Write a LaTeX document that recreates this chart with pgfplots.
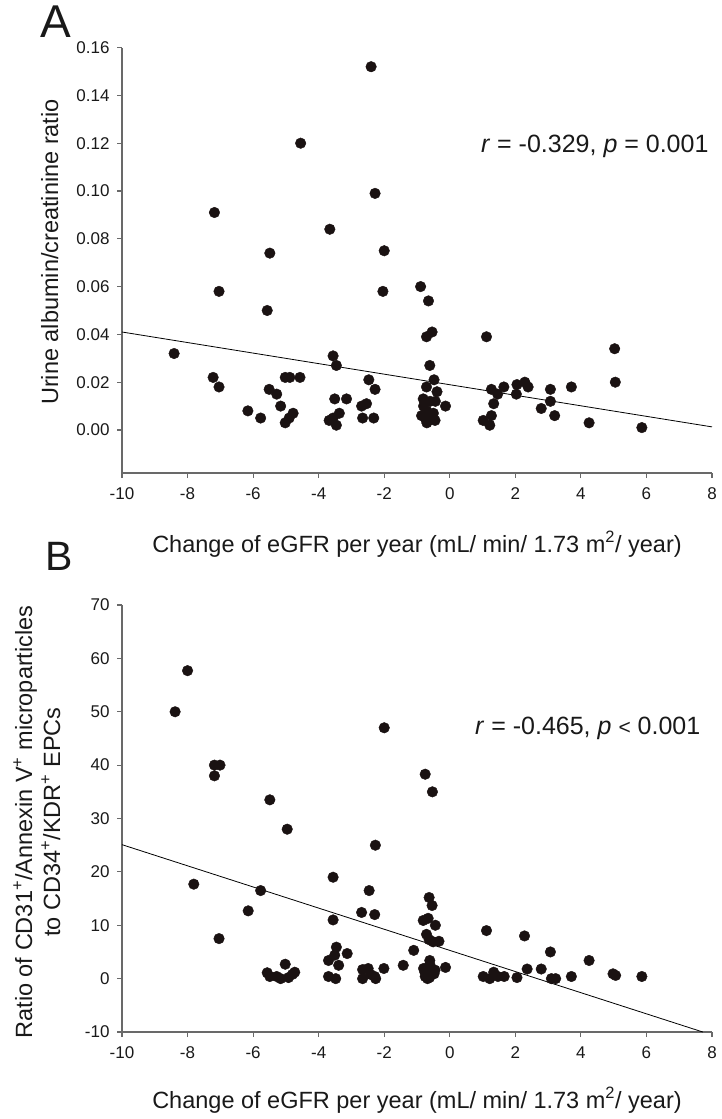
\documentclass[border=0pt]{standalone}
\usepackage{pgfplots}
\pgfplotsset{compat=1.18}
\usepackage{fontspec}
\setmainfont{Liberation Sans}
\definecolor{dot}{RGB}{26,18,18}
\definecolor{axg}{RGB}{105,105,105}
\begin{document}
\begin{tikzpicture}
\path[use as bounding box] (0pt,0pt) rectangle (721pt,-1119pt);
\pgfplotsset{
  myax/.style={
    scale only axis, width=590pt,
    xmin=-10, xmax=8, xtick={-10,-8,-6,-4,-2,0,2,4,6,8},
    axis x line*=bottom, axis y line*=left,
    axis line style={axg, line width=1.1pt},
    tick style={axg, line width=1.1pt},
    tick align=outside, major tick length=5pt,
    ticklabel style={font=\fontsize{17}{19}\selectfont, text=black!90},
    xticklabel style={yshift=-6pt},
    yticklabel style={xshift=-4pt},
    /pgf/number format/assume math mode=true,
    clip=false,
  },
  dots/.style={only marks, mark=*, mark size=5.3pt, mark options={draw=dot, fill=dot}},
}
% ---------------- Panel A ----------------
\begin{axis}[myax, at={(122pt,-473pt)}, anchor=south west, height=425.4pt,
  ymin=-0.018, ymax=0.16,
  ytick={0,0.02,0.04,0.06,0.08,0.10,0.12,0.14,0.16},
  yticklabel style={/pgf/number format/fixed, /pgf/number format/fixed zerofill, /pgf/number format/precision=2},
]
\addplot[dots] coordinates {
(-2.40,0.152) (-4.55,0.120) (-7.18,0.091) (-2.28,0.099) (-3.66,0.084)
(-5.49,0.074) (-2.00,0.075) (-7.04,0.058) (-2.04,0.058) (-0.89,0.060)
(-0.65,0.054) (-5.57,0.050) (-0.71,0.039) (-0.54,0.041) (1.12,0.039)
(5.03,0.034) (5.05,0.020) (-8.41,0.032) (-7.22,0.022) (-7.04,0.018)
(-6.16,0.008) (-5.77,0.005) (-5.51,0.017) (-5.28,0.015) (-5.16,0.010)
(-5.02,0.022) (-4.88,0.022) (-4.57,0.022) (-5.02,0.003) (-4.90,0.005)
(-4.78,0.007) (-3.56,0.031) (-3.46,0.027) (-3.51,0.013) (-3.15,0.013)
(-3.68,0.004) (-3.56,0.005) (-3.46,0.002) (-3.37,0.007) (-2.47,0.021)
(-2.28,0.017) (-2.66,0.005) (-2.32,0.005) (-2.69,0.010) (-2.54,0.011)
(-0.61,0.027) (-0.48,0.021) (-0.71,0.018) (-0.39,0.016) (-0.81,0.013)
(-0.44,0.012) (-0.13,0.010) (-0.86,0.006) (-0.80,0.010) (-0.70,0.008)
(-0.65,0.004) (-0.55,0.006) (-0.50,0.007) (-0.75,0.005) (-0.60,0.012)
(-0.45,0.004) (-0.70,0.003)
(1.27,0.017) (1.46,0.015) (1.34,0.011) (1.02,0.004) (1.27,0.006)
(1.22,0.002) (1.65,0.018) (2.05,0.019) (2.03,0.015) (2.29,0.020)
(2.39,0.018) (2.79,0.009) (3.07,0.017) (3.07,0.012) (3.20,0.006)
(3.71,0.018) (4.25,0.003) (5.86,0.001)
};
\addplot[black, line width=0.8pt, no marks] coordinates {(-10,0.041) (8,0.0013)};
\node[anchor=east, font=\fontsize{25}{27}\selectfont, text=black!90] at (axis cs:8,0.1187)
  {\textit{r} = -0.329, \textit{p} = 0.001};
\end{axis}
% ---------------- Panel B ----------------
\begin{axis}[myax, at={(122pt,-1032pt)}, anchor=south west, height=427pt,
  ymin=-10, ymax=70,
  ytick={-10,0,10,20,30,40,50,60,70},
]
\addplot[dots] coordinates {
(-8.38,50.0) (-8.00,57.7) (-7.18,40.0) (-7.01,40.0) (-7.18,38.0)
(-7.81,17.7) (-7.04,7.5) (-6.15,12.7) (-5.77,16.5) (-5.49,33.5)
(-4.96,28.0) (-5.57,1.1) (-5.49,0.4) (-5.28,0.4) (-5.16,0.0)
(-5.02,2.7) (-4.92,0.2) (-4.80,0.8) (-4.73,1.2) (-3.56,19.0)
(-3.56,11.0) (-3.46,5.9) (-3.51,4.4) (-3.70,3.4) (-3.39,2.5)
(-3.13,4.7) (-3.70,0.4) (-3.48,0.0) (-2.27,25.0) (-2.46,16.5)
(-2.69,12.4) (-2.29,12.0) (-2.66,1.7) (-2.66,0.0) (-2.49,1.9)
(-2.42,0.8) (-2.29,0.4) (-2.26,0.0) (-2.01,1.9) (-2.00,47.0)
(-1.42,2.5) (-1.10,5.3) (-0.75,38.3) (-0.53,35.0) (-0.63,15.2)
(-0.54,13.7) (-0.81,10.9) (-0.66,11.3) (-0.44,10.0) (-0.71,8.3)
(-0.63,7.3) (-0.51,6.9) (-0.33,7.0) (-0.61,3.4) (-0.80,1.9)
(-0.70,1.6) (-0.55,1.4) (-0.75,0.4) (-0.62,0.2) (-0.48,0.9)
(-0.68,0.0) (-0.45,1.6) (-0.13,2.1) (-0.61,2.7) (-0.76,1.2)
(1.12,9.0) (1.02,0.4) (1.22,0.0) (1.34,1.2) (1.47,0.4)
(1.66,0.4) (2.05,0.2) (2.28,8.0) (2.36,1.8) (2.79,1.8)
(3.07,5.0) (3.10,0.0) (3.23,0.0) (3.71,0.4) (4.25,3.4)
(4.98,0.9) (5.06,0.6) (5.86,0.4)
};
\addplot[black, line width=0.8pt, no marks] coordinates {(-10,25.1) (7.72,-10)};
\node[anchor=east, font=\fontsize{25}{27}\selectfont, text=black!90] at (axis cs:7.75,46.8)
  {\textit{r} = -0.465, \textit{p} {\fontsize{21}{23}\selectfont<} 0.001};
\end{axis}
% ---------------- Texts ----------------
\node[anchor=base west, font=\fontsize{46}{50}\selectfont, text=black!90] at (37pt,-37pt) {A};
\node[anchor=base west, font=\fontsize{41}{45}\selectfont, text=black!90] at (42pt,-570pt) {B};
\node[anchor=base, font=\fontsize{23.5}{26}\selectfont, text=black!90] at (417pt,-552pt)
  {Change of eGFR per year (mL/ min/ 1.73 m\textsuperscript{2}/ year)};
\node[anchor=base, font=\fontsize{23.5}{26}\selectfont, text=black!90] at (417pt,-1108pt)
  {Change of eGFR per year (mL/ min/ 1.73 m\textsuperscript{2}/ year)};
\node[rotate=90, anchor=base, font=\fontsize{23.5}{26}\selectfont, text=black!90] at (58pt,-252pt)
  {Urine albumin/creatinine ratio};
\node[rotate=90, anchor=base, font=\fontsize{23.5}{26}\selectfont, text=black!90] at (32pt,-822pt)
  {Ratio of CD31\textsuperscript{+}/Annexin V\textsuperscript{+} microparticles};
\node[rotate=90, anchor=base, font=\fontsize{23.5}{26}\selectfont, text=black!90] at (60pt,-822pt)
  {to CD34\textsuperscript{+}/KDR\textsuperscript{+} EPCs};
\end{tikzpicture}
\end{document}
